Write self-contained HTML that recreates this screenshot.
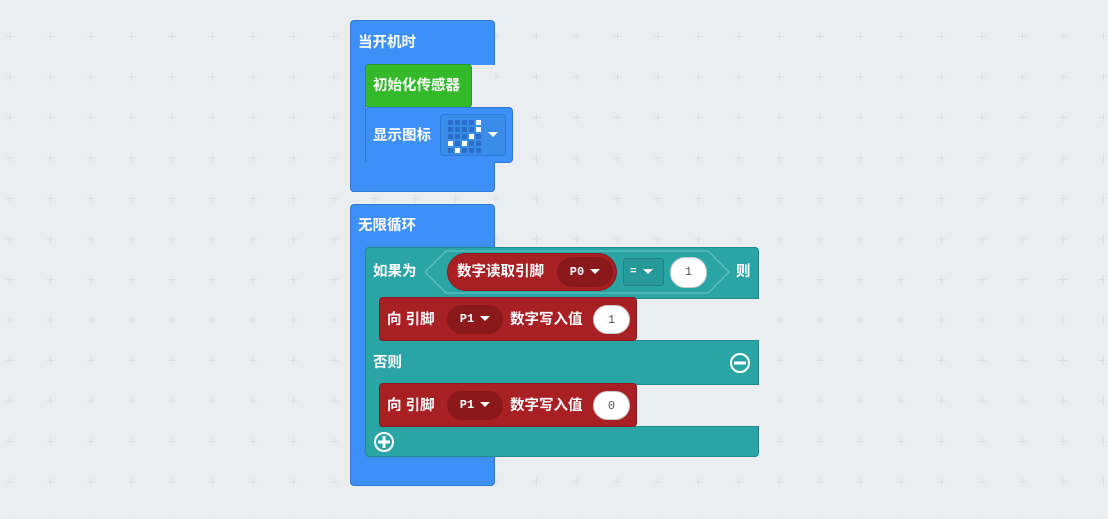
<!DOCTYPE html>
<html><head><meta charset="utf-8"><style>
body{margin:0;width:1108px;height:519px;background:#eaeef0;position:relative;overflow:hidden;font-family:"Liberation Sans","Noto Sans CJK SC",sans-serif;}
.b{position:absolute;box-sizing:border-box;}
.t{position:absolute;color:#fff;font-weight:bold;font-size:14.5px;white-space:nowrap;line-height:18px;}
.blue{background:#3c90f7;border:1px solid #2f79d8;}
.teal{background:#2aa4a5;border:1px solid #218a8b;}
.red{background:#a81f24;border:1px solid #8a1a1d;}
.pill{position:absolute;background:#8b191c;border-radius:16px;color:#fff;font:bold 12px "Liberation Mono",monospace;text-align:center;line-height:28px;}
.num{position:absolute;background:#fff;border-radius:15px;color:#555;font:12px "Liberation Mono",monospace;text-align:center;line-height:28px;border:1px solid #ccc;box-sizing:border-box;}
.tri{display:inline-block;border-left:5px solid transparent;border-right:5px solid transparent;border-top:5px solid #fff;vertical-align:middle;margin-left:6px;}
</style></head><body>
<svg width="1108" height="519" style="position:absolute;left:0;top:0">
<defs><pattern id="g" x="0" y="16" width="40.5" height="40.5" patternUnits="userSpaceOnUse">
<path d="M6 20.5h8M10 16.5v8" stroke="#dce0e3" stroke-width="1"/></pattern></defs>
<rect width="1108" height="519" fill="url(#g)"/></svg>

<!-- block 1 -->
<div class="b blue" style="left:350px;top:20px;width:145px;height:172px;border-radius:4px"></div>
<div class="t" style="left:358px;top:34px">当开机时</div>
<div class="b" style="left:365px;top:65px;width:130px;height:100px;background:#eaeef0;border-left:1px solid #2f79d8"></div>
<div class="b" style="left:365px;top:64px;width:107px;height:44px;background:#33b92a;border:1px solid #2a9a22;border-radius:4px"></div>
<div class="t" style="left:373px;top:77px">初始化传感器</div>
<div class="b blue" style="left:365px;top:107px;width:148px;height:56px;border-radius:4px"></div>
<div class="t" style="left:373px;top:127px">显示图标</div>
<div class="b" style="left:440px;top:114px;width:66px;height:42px;border:1px solid #2f79d8;border-radius:4px;background:#3a8ce9"></div>
<svg style="position:absolute;left:448px;top:120px" width="34" height="34">
<g fill="#2a6fc8">
<rect x="0" y="0" width="5" height="5"/><rect x="7" y="0" width="5" height="5"/><rect x="14" y="0" width="5" height="5"/><rect x="21" y="0" width="5" height="5"/>
<rect x="0" y="7" width="5" height="5"/><rect x="7" y="7" width="5" height="5"/><rect x="14" y="7" width="5" height="5"/><rect x="21" y="7" width="5" height="5"/>
<rect x="0" y="14" width="5" height="5"/><rect x="7" y="14" width="5" height="5"/><rect x="14" y="14" width="5" height="5"/><rect x="28" y="14" width="5" height="5"/>
<rect x="7" y="21" width="5" height="5"/><rect x="21" y="21" width="5" height="5"/><rect x="28" y="21" width="5" height="5"/>
<rect x="0" y="28" width="5" height="5"/><rect x="14" y="28" width="5" height="5"/><rect x="21" y="28" width="5" height="5"/><rect x="28" y="28" width="5" height="5"/>
</g><g fill="#fff">
<rect x="28" y="0" width="5" height="5"/><rect x="28" y="7" width="5" height="5"/><rect x="21" y="14" width="5" height="5"/>
<rect x="0" y="21" width="5" height="5"/><rect x="14" y="21" width="5" height="5"/><rect x="7" y="28" width="5" height="5"/>
</g></svg>
<span class="tri" style="position:absolute;left:488px;top:132px;margin:0"></span>
<div class="b" style="left:350px;top:162px;width:145px;height:30px;background:#3c90f7;border:1px solid #2f79d8;border-top:none;border-radius:0 0 4px 4px"></div>

<!-- block 2 -->
<div class="b blue" style="left:350px;top:204px;width:145px;height:282px;border-radius:4px"></div>
<div class="t" style="left:358px;top:217px">无限循环</div>

<div class="b teal" style="left:365px;top:247px;width:394px;height:210px;border-radius:4px"></div>
<div class="b" style="left:380px;top:298px;width:379px;height:43px;background:#eaeef0;border-left:1px solid #218a8b;border-top:1px solid #218a8b;border-bottom:1px solid #218a8b"></div>
<div class="b" style="left:380px;top:384px;width:379px;height:43px;background:#eaeef0;border-left:1px solid #218a8b;border-top:1px solid #218a8b;border-bottom:1px solid #218a8b"></div>
<div class="t" style="left:373px;top:263px">如果为</div>
<svg style="position:absolute;left:424px;top:250px" width="306" height="44"><polygon points="1,22 22,1 284,1 305,22 284,43 22,43" fill="#2aa4a5" stroke="#6cc7c7" stroke-width="1"/></svg>
<div class="b" style="left:447px;top:253px;width:170px;height:38px;background:#a81f24;border:1px solid #8a1a1d;border-radius:19px"></div>
<div class="t" style="left:457px;top:263px">数字读取引脚</div>
<div class="pill" style="left:557px;top:257px;width:56px;height:30px;line-height:30px">P0<span class="tri"></span></div>
<div class="b" style="left:623px;top:258px;width:41px;height:28px;border:1px solid #1f8585;border-radius:3px;background:#27999a"></div>
<div style="position:absolute;left:630px;top:265px;color:#fff;font:bold 11px 'Liberation Mono',monospace;line-height:14px">=<span class="tri"></span></div>
<div class="num" style="left:670px;top:257px;width:37px;height:31px;line-height:29px">1</div>
<div class="t" style="left:736px;top:263px">则</div>

<div class="b red" style="left:379px;top:297px;width:258px;height:44px;border-radius:4px"></div>
<div class="t" style="left:387px;top:311px">向 引脚</div>
<div class="pill" style="left:447px;top:305px;width:56px;height:29px">P1<span class="tri"></span></div>
<div class="t" style="left:510px;top:311px">数字写入值</div>
<div class="num" style="left:593px;top:305px;width:37px;height:29px">1</div>

<div class="t" style="left:373px;top:354px">否则</div>
<svg style="position:absolute;left:729px;top:352px" width="22" height="22"><circle cx="11" cy="11" r="9" fill="none" stroke="#fff" stroke-width="2"/><rect x="5" y="9.5" width="12" height="3" fill="#fff"/></svg>

<div class="b red" style="left:379px;top:383px;width:258px;height:44px;border-radius:4px"></div>
<div class="t" style="left:387px;top:397px">向 引脚</div>
<div class="pill" style="left:447px;top:391px;width:56px;height:29px">P1<span class="tri"></span></div>
<div class="t" style="left:510px;top:397px">数字写入值</div>
<div class="num" style="left:593px;top:391px;width:37px;height:29px">0</div>

<svg style="position:absolute;left:373px;top:431px" width="22" height="22"><circle cx="11" cy="11" r="9" fill="none" stroke="#fff" stroke-width="2"/><rect x="5" y="9.5" width="12" height="3" fill="#fff"/><rect x="9.5" y="5" width="3" height="12" fill="#fff"/></svg>
</body></html>
